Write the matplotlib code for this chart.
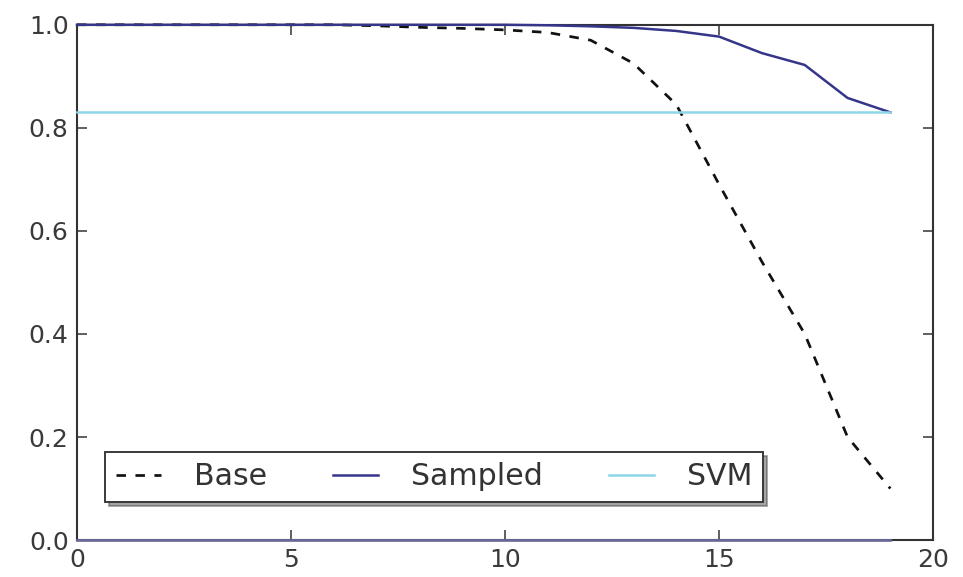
import matplotlib
matplotlib.use('Agg')
import matplotlib.pyplot as plt

# values
steps = list(range(20))
base = [1.0, 1.0, 1.0, 1.0, 1.0, 1.0, 1.0, 0.998, 0.995, 0.993,
        0.99, 0.985, 0.97, 0.925, 0.845, 0.69, 0.54, 0.40, 0.20, 0.10]
sampled = [1.0, 1.0, 1.0, 1.0, 1.0, 1.0, 1.0, 1.0, 1.0, 1.0,
           1.0, 0.999, 0.997, 0.994, 0.988, 0.977, 0.945, 0.922, 0.858, 0.83]
svm = [0.83] * 20
floor = [0.0] * 20  # unlabeled series lying on the x axis

# the original looks like a 12pt figure rendered at 150 dpi
fig = plt.figure(figsize=(6.42, 3.847), dpi=150)
ax = fig.add_axes([0.080, 0.064, 0.889, 0.893])

ax.plot(steps, floor, color='#6a6a9c', linewidth=1.3, clip_on=False, zorder=3)
ax.plot(steps, base, color='#111111', linewidth=1.3, dashes=(3.5, 3.5),
        label='Base', clip_on=False, zorder=3)
ax.plot(steps, sampled, color='#35358a', linewidth=1.2, label='Sampled',
        clip_on=False, zorder=3)
ax.plot(steps, svm, color='#8dd6e8', linewidth=1.2, label='SVM',
        clip_on=False, zorder=3)

ax.set_xlim(0, 20)
ax.set_ylim(0, 1.0)
ax.set_xticks([0, 5, 10, 15, 20])
ax.set_yticks([0.0, 0.2, 0.4, 0.6, 0.8, 1.0])
ax.tick_params(direction='in', top=True, right=True, length=5, width=0.8,
               labelsize=12, labelcolor='#3a3a3a', color='#444444', pad=4)
for sp in ax.spines.values():
    sp.set_color('#333333')
    sp.set_linewidth(1.0)

leg = ax.legend(loc='lower left', bbox_to_anchor=(0.033, 0.074), borderaxespad=0,
                ncol=3, fontsize=14.4, handlelength=1.5, handletextpad=1.1,
                columnspacing=2.2, shadow=True, fancybox=False,
                borderpad=0.35, framealpha=1)
leg.get_frame().set_edgecolor('#333333')
leg.get_frame().set_linewidth(0.9)
for t in leg.get_texts():
    t.set_color('#333333')

plt.savefig('out.png', dpi=150)
